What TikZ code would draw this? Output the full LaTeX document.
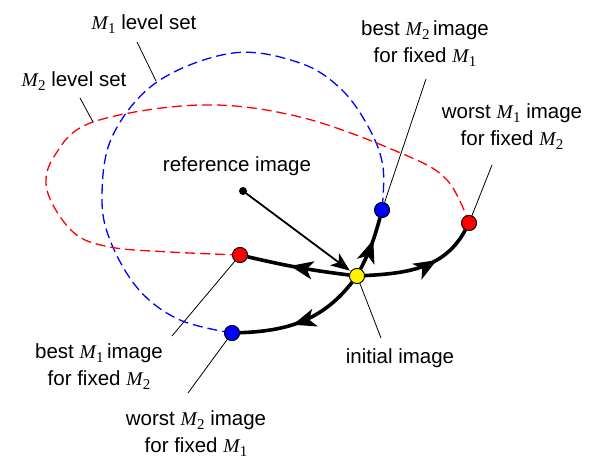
\documentclass[tikz,border=0pt]{standalone}
\usepackage{fontspec}
\setmainfont{Liberation Sans}
\newfontfamily\mathserif{Liberation Serif}
\usetikzlibrary{arrows.meta,decorations.markings}
\newcommand{\Msym}[1]{{\mathserif\itshape\fontsize{19.5}{19.5}\selectfont M}\kern0.3pt\raisebox{-4pt}{\mathserif\fontsize{15}{15}\selectfont #1}}
\tikzset{
  dotc/.style={circle, draw=black, line width=0.8pt, minimum size=15pt, inner sep=0pt},
  lbl/.style={align=center, font=\fontsize{20.5}{27}\selectfont, inner sep=0pt},
  leader/.style={draw=black, line width=0.8pt},
  thickpath/.style={line width=3.6pt, postaction={decorate},
    decoration={markings, mark=at position #1 with {\arrow{Stealth[length=23pt,width=18pt,inset=6pt]}}}},
  levelset/.style={line width=1.3pt, dash pattern=on 10pt off 5pt},
}
\begin{document}
\begin{tikzpicture}[x=1pt,y=-1pt]
\useasboundingbox (0,0) rectangle (609,462);
% nodes
\node[dotc, fill=yellow] (init) at (357,276) {};
\node[dotc, fill=blue] (bM2) at (382,210) {};
\node[dotc, fill=red] (wM1) at (469,223) {};
\node[dotc, fill=red] (bM1) at (240,255) {};
\node[dotc, fill=blue] (wM2) at (232,333) {};
\node[circle, fill=black, minimum size=8pt, inner sep=0pt] (ref) at (243,191) {};
% level sets
\draw[levelset, blue] plot[smooth, tension=0.6] coordinates {(wM2.center) (180,320) (140,291) (112,245) (102,200) (112,137) (157,82) (233,53) (300,63) (342,90) (370,130) (383,167) (bM2.center)};
\draw[levelset, red] plot[smooth, tension=0.6] coordinates {(bM1.center) (170,252) (110,247) (73,232) (47,190) (55,155) (93,122) (200,105) (300,117) (403,154) (447,180) (wM1.center)};
% reference arrow
\draw[line width=1.8pt, -{Stealth[length=19pt,width=15pt,inset=5pt]}, shorten >=1pt] (ref.center) -- (init);
% thick paths
\draw[thickpath=0.58] (init) to[bend left=3] (bM1);
\draw[thickpath=0.58] (init) to[out=63, in=-105] (bM2);
\draw[thickpath=0.64] (init) to[out=3, in=-118] (wM1);
\draw[thickpath=0.58] (init) to[out=-128, in=2] (wM2);
% redraw nodes on top
\node[dotc, fill=yellow] at (init) {};
\node[dotc, fill=blue] at (bM2) {};
\node[dotc, fill=red] at (wM1) {};
\node[dotc, fill=red] at (bM1) {};
\node[dotc, fill=blue] at (wM2) {};
% labels
\node[lbl] (tM1) at (144,24) {\Msym{1} level set};
\node[lbl] (tM2) at (74,81) {\Msym{2} level set};
\node[lbl] (tref) at (237,166) {reference image};
\node[lbl] (tbM2) at (425,44) {best \Msym{2}\,image\\for fixed \Msym{1}};
\node[lbl] (twM1) at (512,127) {worst \Msym{1} image\\for fixed \Msym{2}};
\node[lbl] (tbM1) at (99,367) {best \Msym{1}\,image\\for fixed \Msym{2}};
\node[lbl] (twM2) at (196,434) {worst \Msym{2} image\\for fixed \Msym{1}};
\node[lbl] (tinit) at (400,358) {initial image};
% leaders
\coordinate (lM1a) at (137,42); \coordinate (lM1b) at (156,81);
\coordinate (lM2a) at (80,98); \coordinate (lM2b) at (93,122);
\coordinate (lbM2) at (426,79);
\coordinate (lwM1) at (492,165);
\coordinate (lbM1) at (172,336);
\coordinate (lwM2) at (188,393);
\coordinate (linit) at (381,338);
\draw[leader] (lM1a) -- (lM1b);
\draw[leader] (lM2a) -- (lM2b);
\draw[leader] (lbM2) -- (bM2);
\draw[leader] (lwM1) -- (wM1);
\draw[leader] (lbM1) -- (bM1);
\draw[leader] (lwM2) -- (wM2);
\draw[leader] (linit) -- (init);
\end{tikzpicture}
\end{document}
